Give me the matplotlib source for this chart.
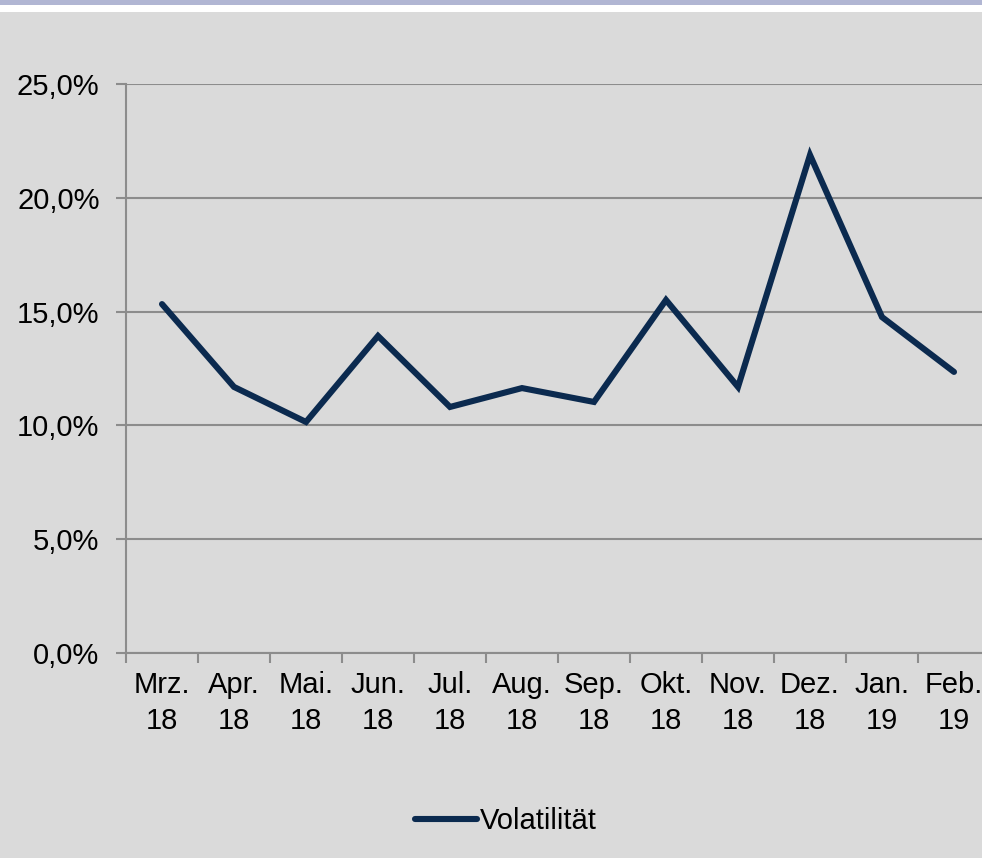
import matplotlib
matplotlib.use("Agg")
import matplotlib.pyplot as plt
from matplotlib.patches import Rectangle
from matplotlib.ticker import FuncFormatter, MultipleLocator

categories = ["Mrz.\n18", "Apr.\n18", "Mai.\n18", "Jun.\n18", "Jul.\n18", "Aug.\n18",
              "Sep.\n18", "Okt.\n18", "Nov.\n18", "Dez.\n18", "Jan.\n19", "Feb.\n19"]
volatility = [15.33, 11.69, 10.15, 13.93, 10.81, 11.64, 11.03, 15.51, 11.69, 21.88, 14.76, 12.35]
series_name = "Volatilität"

plt.rcParams['font.family'] = ['Liberation Sans', 'DejaVu Sans']
FS = 21

W, H = 982, 858
fig = plt.figure(figsize=(W / 100, H / 100), dpi=100)
fig.patch.set_facecolor('#dadada')
# top band
fig.add_artist(Rectangle((0, 1 - 5 / H), 1, 5 / H, transform=fig.transFigure,
                         facecolor='#b1b6d3', edgecolor='none'))
fig.add_artist(Rectangle((0, 1 - 12 / H), 1, 7 / H, transform=fig.transFigure,
                         facecolor='white', edgecolor='none'))

left, right = 126 / W, 990 / W
bottom, top = 1 - 653 / H, 1 - 84 / H
ax = fig.add_axes([left, bottom, right - left, top - bottom])
ax.set_facecolor('#dadada')

x = list(range(len(categories)))
line, = ax.plot(x, volatility, color='#0b2a4f', lw=4.4, solid_joinstyle='miter',
                solid_capstyle='round', label=series_name, zorder=3)

ax.set_xlim(-0.5, len(categories) - 0.5)
ax.set_ylim(0, 25)
ax.yaxis.set_major_locator(MultipleLocator(5))
ax.yaxis.set_major_formatter(FuncFormatter(lambda v, p: f"{v:.1f}%".replace('.', ',')))
ax.grid(axis='y', color='#8c8c8c', lw=1.5, zorder=1)
ax.set_axisbelow(True)

for s in ['top', 'right']:
    ax.spines[s].set_visible(False)
for s in ['left', 'bottom']:
    ax.spines[s].set_color('#8c8c8c')
    ax.spines[s].set_linewidth(1.5)

ax.set_xticks([i - 0.5 for i in range(len(categories) + 1)], minor=False)
ax.set_xticklabels([])
ax.set_xticks(x, minor=True)
ax.set_xticklabels(categories, minor=True, fontsize=FS, linespacing=1.35,
                   multialignment='center')
ax.tick_params(axis='x', which='major', length=7, width=1.5, color='#8c8c8c', direction='out')
ax.tick_params(axis='x', which='minor', length=0, pad=13)
ax.tick_params(axis='y', length=7, width=1.5, color='#8c8c8c', labelsize=FS, pad=12)

leg = fig.legend(handles=[line], loc='center', bbox_to_anchor=(506 / W, 1 - 821 / H),
                 frameon=False, fontsize=FS, handlelength=2.1, handletextpad=0.1)

fig.savefig('out.png', dpi=100, facecolor=fig.get_facecolor())
